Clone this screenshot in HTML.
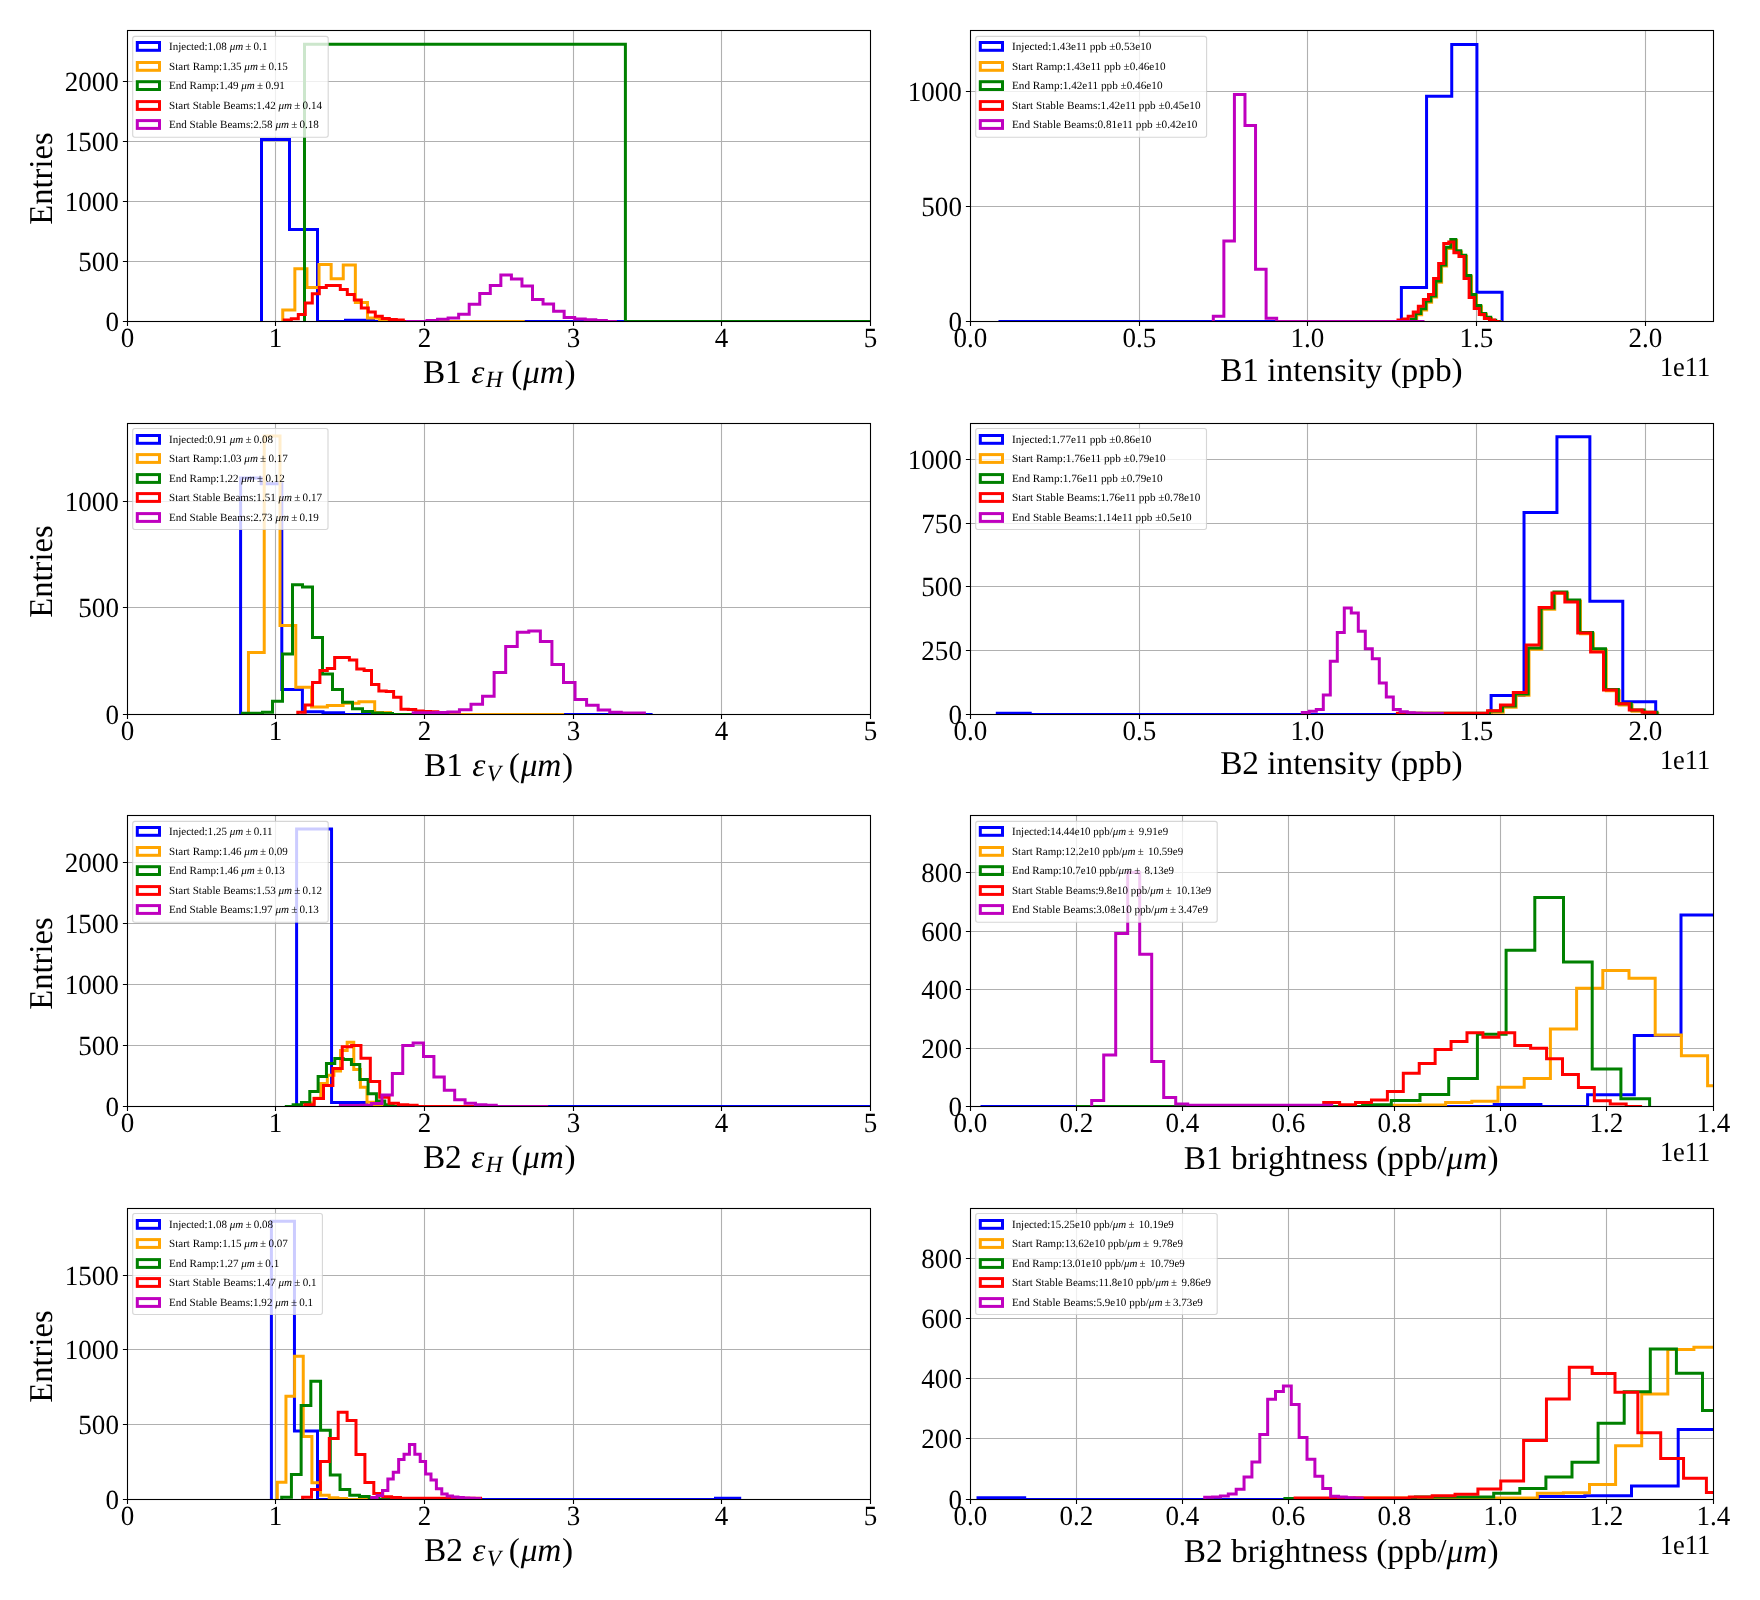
<!DOCTYPE html>
<html><head><meta charset="utf-8"><title>Emittance, intensity and brightness histograms</title>
<style>html,body{margin:0;padding:0;background:#fff}svg{display:block}text{font-family:"Liberation Serif",serif;fill:#000;text-rendering:geometricPrecision}#w{width:1760px;height:1600px;overflow:hidden;will-change:transform;transform:translateZ(0)}.t{font-size:27.78px}.l{font-size:33.33px}.g{font-size:11.11px}.i{font-style:italic}</style></head>
<body><div id="w">
<svg width="1760" height="1600" viewBox="0 0 1760 1600">
<rect x="0" y="0" width="1760" height="1600" fill="#fff"/>
<g id="p0">
<clipPath id="c0"><rect x="127.5" y="30.5" width="743" height="291"/></clipPath>
<path d="M275.5 30.5V321.5M424.5 30.5V321.5M573.5 30.5V321.5M721.5 30.5V321.5M127.5 261.5H870.5M127.5 201.5H870.5M127.5 141.5H870.5M127.5 81.5H870.5" stroke="#b0b0b0" stroke-width="1.1" fill="none"/>
<g clip-path="url(#c0)" fill="none" stroke-width="3.0" stroke-linejoin="miter" stroke-linecap="butt">
<path d="M261.5 321.5V139.4H289.5V229.4H317.5V321.5H345.5V320.3H373.5V321.5H401.5V321.5H429.5V321.5H457.5V321.5H485.5V321.5H513.5V321.5H541.5V321.5H569.5V321.5H597.5V321.5H625.5V321.5H653.5V321.5H681.5V321.5H709.5V321.5H737.5V321.5H765.5V321.5H793.5V321.5H821.5V321.5" stroke="#0000ff"/>
<path d="M282.75 321.5V310H294.85V268.75H306.95V287.5H319.05V264.4H331.15V278.75H343.25V265H355.35V302.5H367.45V318H379.55V321.5H391.65V321.5H403.75V321.5H415.85V321.5H427.95V321.5H440.05V321.5H452.15V321.5H464.25V321.5H476.35V321.5H488.45V321.5H500.55V321.5H512.65V321.5H524.75V321.5" stroke="#ffa500"/>
<path d="M304.5 321.5V44.3H625.4V321.5H946.3V321.5" stroke="#008000"/>
<path d="M284.3 321.5V320H291.3V318.75H298.3V314.4H305.3V303.1H312.3V293.75H319.3V287.5H326.3V285.6H333.3V285.4H340.3V289.4H347.3V294.4H354.3V300H361.3V308.1H368.3V311.9H375.3V316.25H382.3V318.5H389.3V319.5H396.3V320H403.3V321.5H410.3V321.5H417.3V321.5H424.3V321.5" stroke="#ff0000"/>
<path d="M405.9 321.5V321.5H416.45V321.5H427V320.4H437.55V319.2H448.1V318H458.65V314.2H469.2V304.3H479.75V293.5H490.3V285.4H500.85V275.1H511.4V279H521.95V286.1H532.5V299.4H543.05V303.9H553.6V311.3H564.15V317.5H574.7V319.1H585.25V319.8H595.8V320.4H606.35V321.5H616.9V321.5" stroke="#bf00bf"/>
</g>
<rect x="132.7" y="36.35" width="195.5" height="100.9" rx="2.2" ry="2.2" fill="#fff" fill-opacity="0.8" stroke="#ccc" stroke-opacity="0.8" stroke-width="1.1"/>
<rect x="137.3" y="42.5" width="22.2" height="7.8" fill="none" stroke="#0000ff" stroke-width="3.0"/>
<text class="g" x="169" y="50.1" textLength="98.4" lengthAdjust="spacingAndGlyphs" xml:space="preserve">Injected:1.08 <tspan class="i">μm</tspan> ± 0.1</text>
<rect x="137.3" y="62.5" width="22.2" height="7.8" fill="none" stroke="#ffa500" stroke-width="3.0"/>
<text class="g" x="169" y="70.1" textLength="118.8" lengthAdjust="spacingAndGlyphs" xml:space="preserve">Start Ramp:1.35 <tspan class="i">μm</tspan> ± 0.15</text>
<rect x="137.3" y="81.7" width="22.2" height="7.8" fill="none" stroke="#008000" stroke-width="3.0"/>
<text class="g" x="169" y="89.3" textLength="115.8" lengthAdjust="spacingAndGlyphs" xml:space="preserve">End Ramp:1.49 <tspan class="i">μm</tspan> ± 0.91</text>
<rect x="137.3" y="101.6" width="22.2" height="7.8" fill="none" stroke="#ff0000" stroke-width="3.0"/>
<text class="g" x="169" y="109.2" textLength="153" lengthAdjust="spacingAndGlyphs" xml:space="preserve">Start Stable Beams:1.42 <tspan class="i">μm</tspan> ± 0.14</text>
<rect x="137.3" y="120.6" width="22.2" height="7.8" fill="none" stroke="#bf00bf" stroke-width="3.0"/>
<text class="g" x="169" y="128.2" textLength="149.9" lengthAdjust="spacingAndGlyphs" xml:space="preserve">End Stable Beams:2.58 <tspan class="i">μm</tspan> ± 0.18</text>
<rect x="127.5" y="30.5" width="743" height="291" fill="none" stroke="#000" stroke-width="1.1"/>
<path d="M127.5 321.5v4.6M275.5 321.5v4.6M424.5 321.5v4.6M573.5 321.5v4.6M721.5 321.5v4.6M870.5 321.5v4.6M127.5 321.5h-4.6M127.5 261.5h-4.6M127.5 201.5h-4.6M127.5 141.5h-4.6M127.5 81.5h-4.6" stroke="#000" stroke-width="1.1" fill="none"/>
<text class="t" x="127.5" y="347.4" text-anchor="middle" textLength="13.51" lengthAdjust="spacingAndGlyphs">0</text>
<text class="t" x="275.5" y="347.4" text-anchor="middle" textLength="13.51" lengthAdjust="spacingAndGlyphs">1</text>
<text class="t" x="424.5" y="347.4" text-anchor="middle" textLength="13.51" lengthAdjust="spacingAndGlyphs">2</text>
<text class="t" x="573.5" y="347.4" text-anchor="middle" textLength="13.51" lengthAdjust="spacingAndGlyphs">3</text>
<text class="t" x="721.5" y="347.4" text-anchor="middle" textLength="13.51" lengthAdjust="spacingAndGlyphs">4</text>
<text class="t" x="870.5" y="347.4" text-anchor="middle" textLength="13.51" lengthAdjust="spacingAndGlyphs">5</text>
<text class="t" x="118.9" y="330.9" text-anchor="end" textLength="13.51" lengthAdjust="spacingAndGlyphs">0</text>
<text class="t" x="118.9" y="270.9" text-anchor="end" textLength="40.54" lengthAdjust="spacingAndGlyphs">500</text>
<text class="t" x="118.9" y="210.9" text-anchor="end" textLength="54.06" lengthAdjust="spacingAndGlyphs">1000</text>
<text class="t" x="118.9" y="150.9" text-anchor="end" textLength="54.06" lengthAdjust="spacingAndGlyphs">1500</text>
<text class="t" x="118.9" y="90.9" text-anchor="end" textLength="54.06" lengthAdjust="spacingAndGlyphs">2000</text>
<text class="l" x="422.9" y="382.8" xml:space="preserve">B1 <tspan class="i" dx="1">ε</tspan><tspan class="i" dx="1.4" dy="4.6" font-size="23.3">H</tspan><tspan dx="0.4" dy="-4.6"> (</tspan><tspan class="i" dx="0.7">μm</tspan><tspan dx="0.6">)</tspan></text>
<text class="l" transform="translate(51.7 224.7) rotate(-90)" textLength="92.4" lengthAdjust="spacingAndGlyphs">Entries</text>
</g>
<g id="p1">
<clipPath id="c1"><rect x="970.5" y="30.5" width="743" height="291"/></clipPath>
<path d="M1139.5 30.5V321.5M1307.5 30.5V321.5M1476.5 30.5V321.5M1645.5 30.5V321.5M970.5 206.5H1713.5M970.5 91.5H1713.5" stroke="#b0b0b0" stroke-width="1.1" fill="none"/>
<g clip-path="url(#c1)" fill="none" stroke-width="3.0" stroke-linejoin="miter" stroke-linecap="butt">
<path d="M998.5 321.5V321.5H1023.68V321.5H1048.86V321.5H1074.04V321.5H1099.22V321.5H1124.4V321.5H1149.58V321.5H1174.76V321.5H1199.94V321.5H1225.12V321.5H1250.3V321.5H1275.48V321.5H1300.66V321.5H1325.84V321.5H1351.02V321.5H1376.2V321.5H1401.38V287.5H1426.56V96.2H1451.74V44.6H1476.92V292.3H1502.1V321.5" stroke="#0000ff"/>
<path d="M1401.7 321.5V321.5H1406.69V321.5H1411.68V320.4H1416.67V314.8H1421.66V310H1426.65V302.3H1431.64V297.1H1436.63V282.3H1441.62V266.1H1446.61V248.4H1451.6V240.6H1456.59V252H1461.58V256.5H1466.57V276.8H1471.56V295.6H1476.55V306.7H1481.54V314.8H1486.53V318.5H1491.52V321.4H1496.51V321.5H1501.5V321.5" stroke="#ffa500"/>
<path d="M1400.9 321.5V321.5H1405.89V321.5H1410.88V319.2H1415.87V313.6H1420.86V308.8H1425.85V301.1H1430.84V295.9H1435.83V281.1H1440.82V264.9H1445.81V247.2H1450.8V239.4H1455.79V250.8H1460.78V255.3H1465.77V275.6H1470.76V294.4H1475.75V305.5H1480.74V313.6H1485.73V317.3H1490.72V320.2H1495.71V321.5H1500.7V321.5" stroke="#008000"/>
<path d="M1398 321.5V319.9H1403.08V318.9H1408.16V316.2H1413.24V312.1H1418.32V306.2H1423.4V299.6H1428.48V294.4H1433.56V278.5H1438.64V263.4H1443.72V243.5H1448.8V242.1H1453.88V252.7H1458.96V256.4H1464.04V278.5H1469.12V297.4H1474.2V308.5H1479.28V314.4H1484.36V318.4H1489.44V319.9H1494.52V321.5H1499.6V321.5" stroke="#ff0000"/>
<path d="M1213.3 321.5V316.3H1223.86V241H1234.42V94.4H1244.98V125.4H1255.54V269.3H1266.1V318.3H1276.66V321.5H1287.22V321.5H1297.78V321.5H1308.34V321.5H1318.9V321.5H1329.46V321.5H1340.02V321.5H1350.58V321.5H1361.14V321.5H1371.7V321.5H1382.26V321.5H1392.82V321.5H1403.38V321.5H1413.94V321.5H1424.5V321.5" stroke="#bf00bf"/>
</g>
<rect x="975.7" y="36.35" width="230.9" height="100.9" rx="2.2" ry="2.2" fill="#fff" fill-opacity="0.8" stroke="#ccc" stroke-opacity="0.8" stroke-width="1.1"/>
<rect x="980.3" y="42.5" width="22.2" height="7.8" fill="none" stroke="#0000ff" stroke-width="3.0"/>
<text class="g" x="1012" y="50.1" textLength="139.4" lengthAdjust="spacingAndGlyphs" xml:space="preserve">Injected:1.43e11 ppb ±0.53e10</text>
<rect x="980.3" y="62.5" width="22.2" height="7.8" fill="none" stroke="#ffa500" stroke-width="3.0"/>
<text class="g" x="1012" y="70.1" textLength="153.5" lengthAdjust="spacingAndGlyphs" xml:space="preserve">Start Ramp:1.43e11 ppb ±0.46e10</text>
<rect x="980.3" y="81.7" width="22.2" height="7.8" fill="none" stroke="#008000" stroke-width="3.0"/>
<text class="g" x="1012" y="89.3" textLength="150.5" lengthAdjust="spacingAndGlyphs" xml:space="preserve">End Ramp:1.42e11 ppb ±0.46e10</text>
<rect x="980.3" y="101.6" width="22.2" height="7.8" fill="none" stroke="#ff0000" stroke-width="3.0"/>
<text class="g" x="1012" y="109.2" textLength="188.5" lengthAdjust="spacingAndGlyphs" xml:space="preserve">Start Stable Beams:1.42e11 ppb ±0.45e10</text>
<rect x="980.3" y="120.6" width="22.2" height="7.8" fill="none" stroke="#bf00bf" stroke-width="3.0"/>
<text class="g" x="1012" y="128.2" textLength="185.5" lengthAdjust="spacingAndGlyphs" xml:space="preserve">End Stable Beams:0.81e11 ppb ±0.42e10</text>
<rect x="970.5" y="30.5" width="743" height="291" fill="none" stroke="#000" stroke-width="1.1"/>
<path d="M970.5 321.5v4.6M1139.5 321.5v4.6M1307.5 321.5v4.6M1476.5 321.5v4.6M1645.5 321.5v4.6M970.5 321.5h-4.6M970.5 206.5h-4.6M970.5 91.5h-4.6" stroke="#000" stroke-width="1.1" fill="none"/>
<text class="t" x="970.5" y="347.4" text-anchor="middle" textLength="33.79" lengthAdjust="spacingAndGlyphs">0.0</text>
<text class="t" x="1139.5" y="347.4" text-anchor="middle" textLength="33.79" lengthAdjust="spacingAndGlyphs">0.5</text>
<text class="t" x="1307.5" y="347.4" text-anchor="middle" textLength="33.79" lengthAdjust="spacingAndGlyphs">1.0</text>
<text class="t" x="1476.5" y="347.4" text-anchor="middle" textLength="33.79" lengthAdjust="spacingAndGlyphs">1.5</text>
<text class="t" x="1645.5" y="347.4" text-anchor="middle" textLength="33.79" lengthAdjust="spacingAndGlyphs">2.0</text>
<text class="t" x="961.9" y="330.9" text-anchor="end" textLength="13.51" lengthAdjust="spacingAndGlyphs">0</text>
<text class="t" x="961.9" y="215.9" text-anchor="end" textLength="40.54" lengthAdjust="spacingAndGlyphs">500</text>
<text class="t" x="961.9" y="100.9" text-anchor="end" textLength="54.06" lengthAdjust="spacingAndGlyphs">1000</text>
<text class="l" x="1341.4" y="380.9" text-anchor="middle" xml:space="preserve">B1 intensity (ppb)</text>
<text class="t" x="1659.9" y="376.3" textLength="50.4" lengthAdjust="spacingAndGlyphs">1e11</text>
</g>
<g id="p2">
<clipPath id="c2"><rect x="127.5" y="423.5" width="743" height="291"/></clipPath>
<path d="M275.5 423.5V714.5M424.5 423.5V714.5M573.5 423.5V714.5M721.5 423.5V714.5M127.5 607.5H870.5M127.5 501.5H870.5" stroke="#b0b0b0" stroke-width="1.1" fill="none"/>
<g clip-path="url(#c2)" fill="none" stroke-width="3.0" stroke-linejoin="miter" stroke-linecap="butt">
<path d="M240.6 714.5V478.1H261.2V483.8H281.8V689.5H302.4V711.8H323V712.8H343.6V714.5H364.2V714.5H384.8V714.5H405.4V714.5H426V714.5H446.6V714.5H467.2V714.5H487.8V714.5H508.4V714.5H529V714.5H549.6V714.5H570.2V714.5H590.8V714.5H611.4V714.5H632V714.5H652.6V714.5" stroke="#0000ff"/>
<path d="M248.45 714.5V652.6H264.23V435.9H280.01V625.4H295.79V687.3H311.57V707H327.35V705.5H343.13V703.2H358.91V701.7H374.69V712.6H390.47V714.5H406.25V714.5H422.03V714.5H437.81V714.5H453.59V714.5H469.37V714.5H485.15V714.5H500.93V714.5H516.71V714.5H532.49V714.5H548.27V714.5H564.05V714.5" stroke="#ffa500"/>
<path d="M242.5 714.5V713.3H252.5V713.3H262.5V712.2H272.5V701.3H282.5V654.1H292.5V584.7H302.5V586.9H312.5V637.6H322.5V674.1H332.5V689.5H342.5V702.3H352.5V708.8H362.5V711.6H372.5V713H382.5V713.4H392.5V714.5H402.5V714.5H412.5V714.5H422.5V714.5H432.5V714.5H442.5V714.5" stroke="#008000"/>
<path d="M297.8 714.5V712.2H305.17V705.1H312.54V682.6H319.91V670.4H327.28V668.5H334.65V657.6H342.02V657.6H349.39V660.1H356.76V669.1H364.13V670.4H371.5V684.4H378.87V691H386.24V691.6H393.61V697.2H400.98V709.2H408.35V709.4H415.72V711H423.09V711.4H430.46V711.8H437.83V712.6H445.2V714.5" stroke="#ff0000"/>
<path d="M413.2 714.5V712.8H424.76V712.8H436.32V712.6H447.88V712H459.44V709.8H471V704.2H482.56V696.2H494.12V672.4H505.68V646.5H517.24V632.3H528.8V631H540.36V641.4H551.92V664.4H563.48V682.4H575.04V699.4H586.6V705.3H598.16V710.1H609.72V712.2H621.28V712.9H632.84V713H644.4V714.5" stroke="#bf00bf"/>
</g>
<rect x="132.7" y="428.55" width="195.3" height="100.9" rx="2.2" ry="2.2" fill="#fff" fill-opacity="0.8" stroke="#ccc" stroke-opacity="0.8" stroke-width="1.1"/>
<rect x="137.3" y="435.5" width="22.2" height="7.8" fill="none" stroke="#0000ff" stroke-width="3.0"/>
<text class="g" x="169" y="443.1" textLength="104" lengthAdjust="spacingAndGlyphs" xml:space="preserve">Injected:0.91 <tspan class="i">μm</tspan> ± 0.08</text>
<rect x="137.3" y="454.6" width="22.2" height="7.8" fill="none" stroke="#ffa500" stroke-width="3.0"/>
<text class="g" x="169" y="462.2" textLength="118.8" lengthAdjust="spacingAndGlyphs" xml:space="preserve">Start Ramp:1.03 <tspan class="i">μm</tspan> ± 0.17</text>
<rect x="137.3" y="474.6" width="22.2" height="7.8" fill="none" stroke="#008000" stroke-width="3.0"/>
<text class="g" x="169" y="482.2" textLength="115.8" lengthAdjust="spacingAndGlyphs" xml:space="preserve">End Ramp:1.22 <tspan class="i">μm</tspan> ± 0.12</text>
<rect x="137.3" y="493.6" width="22.2" height="7.8" fill="none" stroke="#ff0000" stroke-width="3.0"/>
<text class="g" x="169" y="501.2" textLength="153" lengthAdjust="spacingAndGlyphs" xml:space="preserve">Start Stable Beams:1.51 <tspan class="i">μm</tspan> ± 0.17</text>
<rect x="137.3" y="513.6" width="22.2" height="7.8" fill="none" stroke="#bf00bf" stroke-width="3.0"/>
<text class="g" x="169" y="521.2" textLength="149.9" lengthAdjust="spacingAndGlyphs" xml:space="preserve">End Stable Beams:2.73 <tspan class="i">μm</tspan> ± 0.19</text>
<rect x="127.5" y="423.5" width="743" height="291" fill="none" stroke="#000" stroke-width="1.1"/>
<path d="M127.5 714.5v4.6M275.5 714.5v4.6M424.5 714.5v4.6M573.5 714.5v4.6M721.5 714.5v4.6M870.5 714.5v4.6M127.5 714.5h-4.6M127.5 607.5h-4.6M127.5 501.5h-4.6" stroke="#000" stroke-width="1.1" fill="none"/>
<text class="t" x="127.5" y="740.4" text-anchor="middle" textLength="13.51" lengthAdjust="spacingAndGlyphs">0</text>
<text class="t" x="275.5" y="740.4" text-anchor="middle" textLength="13.51" lengthAdjust="spacingAndGlyphs">1</text>
<text class="t" x="424.5" y="740.4" text-anchor="middle" textLength="13.51" lengthAdjust="spacingAndGlyphs">2</text>
<text class="t" x="573.5" y="740.4" text-anchor="middle" textLength="13.51" lengthAdjust="spacingAndGlyphs">3</text>
<text class="t" x="721.5" y="740.4" text-anchor="middle" textLength="13.51" lengthAdjust="spacingAndGlyphs">4</text>
<text class="t" x="870.5" y="740.4" text-anchor="middle" textLength="13.51" lengthAdjust="spacingAndGlyphs">5</text>
<text class="t" x="118.9" y="723.9" text-anchor="end" textLength="13.51" lengthAdjust="spacingAndGlyphs">0</text>
<text class="t" x="118.9" y="616.9" text-anchor="end" textLength="40.54" lengthAdjust="spacingAndGlyphs">500</text>
<text class="t" x="118.9" y="510.9" text-anchor="end" textLength="54.06" lengthAdjust="spacingAndGlyphs">1000</text>
<text class="l" x="424" y="776.1" xml:space="preserve">B1 <tspan class="i" dx="1">ε</tspan><tspan class="i" dx="1.4" dy="4.6" font-size="23.3">V</tspan><tspan dx="-0.5" dy="-4.6"> (</tspan><tspan class="i" dx="0.7">μm</tspan><tspan dx="0.6">)</tspan></text>
<text class="l" transform="translate(51.7 617.7) rotate(-90)" textLength="92.4" lengthAdjust="spacingAndGlyphs">Entries</text>
</g>
<g id="p3">
<clipPath id="c3"><rect x="970.5" y="423.5" width="743" height="291"/></clipPath>
<path d="M1139.5 423.5V714.5M1307.5 423.5V714.5M1476.5 423.5V714.5M1645.5 423.5V714.5M970.5 650.5H1713.5M970.5 586.5H1713.5M970.5 523.5H1713.5M970.5 459.5H1713.5" stroke="#b0b0b0" stroke-width="1.1" fill="none"/>
<g clip-path="url(#c3)" fill="none" stroke-width="3.0" stroke-linejoin="miter" stroke-linecap="butt">
<path d="M997.3 714.5V713.3H1030.22V714.5H1063.14V714.5H1096.06V714.5H1128.98V714.5H1161.9V714.5H1194.82V714.5H1227.74V714.5H1260.66V714.5H1293.58V714.5H1326.5V714.5H1359.42V714.5H1392.34V714.5H1425.26V714.5H1458.18V714.5H1491.1V695.5H1524.02V512.5H1556.94V436.75H1589.86V601.25H1622.78V701.75H1655.7V714.5" stroke="#0000ff"/>
<path d="M1400.2 714.5V714.5H1413.08V714.5H1425.96V714.5H1438.84V714.5H1451.72V714.5H1464.6V714.5H1477.48V714.5H1490.36V712.2H1503.24V707.2H1516.12V695.2H1529V649.2H1541.88V609.2H1554.76V593.2H1567.64V601.2H1580.52V633.7H1593.4V649.95H1606.28V690.7H1619.16V704.95H1632.04V711.2H1644.92V713.5H1657.8V714.5" stroke="#ffa500"/>
<path d="M1399.4 714.5V713.3H1412.28V713.3H1425.16V713.3H1438.04V713.3H1450.92V713.3H1463.8V713.3H1476.68V713.3H1489.56V711H1502.44V706H1515.32V694H1528.2V648H1541.08V608H1553.96V592H1566.84V600H1579.72V632.5H1592.6V648.75H1605.48V689.5H1618.36V703.75H1631.24V710H1644.12V712.3H1657V714.5" stroke="#008000"/>
<path d="M1397.4 714.5V713.3H1410.28V713.3H1423.16V713.3H1436.04V713.3H1448.92V713.3H1461.8V713.3H1474.68V713.3H1487.56V710.75H1500.44V705H1513.32V692.5H1526.2V645H1539.08V607.5H1551.96V593H1564.84V602H1577.72V633H1590.6V652H1603.48V690H1616.36V703.75H1629.24V710H1642.12V712.3H1655V714.5" stroke="#ff0000"/>
<path d="M1302.3 714.5V712.6H1309.3V711.25H1316.3V709.5H1323.3V695H1330.3V661.25H1337.3V632.5H1344.3V608H1351.3V613H1358.3V631.25H1365.3V648.75H1372.3V658.75H1379.3V683H1386.3V697H1393.3V709.5H1400.3V711.75H1407.3V712.8H1414.3V713.2H1421.3V713.4H1428.3V713.4H1435.3V713.4H1442.3V714.5" stroke="#bf00bf"/>
</g>
<rect x="975.7" y="428.55" width="230.8" height="100.9" rx="2.2" ry="2.2" fill="#fff" fill-opacity="0.8" stroke="#ccc" stroke-opacity="0.8" stroke-width="1.1"/>
<rect x="980.3" y="435.5" width="22.2" height="7.8" fill="none" stroke="#0000ff" stroke-width="3.0"/>
<text class="g" x="1012" y="443.1" textLength="139.4" lengthAdjust="spacingAndGlyphs" xml:space="preserve">Injected:1.77e11 ppb ±0.86e10</text>
<rect x="980.3" y="454.6" width="22.2" height="7.8" fill="none" stroke="#ffa500" stroke-width="3.0"/>
<text class="g" x="1012" y="462.2" textLength="153.5" lengthAdjust="spacingAndGlyphs" xml:space="preserve">Start Ramp:1.76e11 ppb ±0.79e10</text>
<rect x="980.3" y="474.6" width="22.2" height="7.8" fill="none" stroke="#008000" stroke-width="3.0"/>
<text class="g" x="1012" y="482.2" textLength="150.5" lengthAdjust="spacingAndGlyphs" xml:space="preserve">End Ramp:1.76e11 ppb ±0.79e10</text>
<rect x="980.3" y="493.6" width="22.2" height="7.8" fill="none" stroke="#ff0000" stroke-width="3.0"/>
<text class="g" x="1012" y="501.2" textLength="188.3" lengthAdjust="spacingAndGlyphs" xml:space="preserve">Start Stable Beams:1.76e11 ppb ±0.78e10</text>
<rect x="980.3" y="513.6" width="22.2" height="7.8" fill="none" stroke="#bf00bf" stroke-width="3.0"/>
<text class="g" x="1012" y="521.2" textLength="179.6" lengthAdjust="spacingAndGlyphs" xml:space="preserve">End Stable Beams:1.14e11 ppb ±0.5e10</text>
<rect x="970.5" y="423.5" width="743" height="291" fill="none" stroke="#000" stroke-width="1.1"/>
<path d="M970.5 714.5v4.6M1139.5 714.5v4.6M1307.5 714.5v4.6M1476.5 714.5v4.6M1645.5 714.5v4.6M970.5 714.5h-4.6M970.5 650.5h-4.6M970.5 586.5h-4.6M970.5 523.5h-4.6M970.5 459.5h-4.6" stroke="#000" stroke-width="1.1" fill="none"/>
<text class="t" x="970.5" y="740.4" text-anchor="middle" textLength="33.79" lengthAdjust="spacingAndGlyphs">0.0</text>
<text class="t" x="1139.5" y="740.4" text-anchor="middle" textLength="33.79" lengthAdjust="spacingAndGlyphs">0.5</text>
<text class="t" x="1307.5" y="740.4" text-anchor="middle" textLength="33.79" lengthAdjust="spacingAndGlyphs">1.0</text>
<text class="t" x="1476.5" y="740.4" text-anchor="middle" textLength="33.79" lengthAdjust="spacingAndGlyphs">1.5</text>
<text class="t" x="1645.5" y="740.4" text-anchor="middle" textLength="33.79" lengthAdjust="spacingAndGlyphs">2.0</text>
<text class="t" x="961.9" y="723.9" text-anchor="end" textLength="13.51" lengthAdjust="spacingAndGlyphs">0</text>
<text class="t" x="961.9" y="659.9" text-anchor="end" textLength="40.54" lengthAdjust="spacingAndGlyphs">250</text>
<text class="t" x="961.9" y="595.9" text-anchor="end" textLength="40.54" lengthAdjust="spacingAndGlyphs">500</text>
<text class="t" x="961.9" y="532.9" text-anchor="end" textLength="40.54" lengthAdjust="spacingAndGlyphs">750</text>
<text class="t" x="961.9" y="468.9" text-anchor="end" textLength="54.06" lengthAdjust="spacingAndGlyphs">1000</text>
<text class="l" x="1341.4" y="773.9" text-anchor="middle" xml:space="preserve">B2 intensity (ppb)</text>
<text class="t" x="1659.9" y="769.3" textLength="50.4" lengthAdjust="spacingAndGlyphs">1e11</text>
</g>
<g id="p4">
<clipPath id="c4"><rect x="127.5" y="815.5" width="743" height="291"/></clipPath>
<path d="M275.5 815.5V1106.5M424.5 815.5V1106.5M573.5 815.5V1106.5M721.5 815.5V1106.5M127.5 1045.5H870.5M127.5 984.5H870.5M127.5 923.5H870.5M127.5 862.5H870.5" stroke="#b0b0b0" stroke-width="1.1" fill="none"/>
<g clip-path="url(#c4)" fill="none" stroke-width="3.0" stroke-linejoin="miter" stroke-linecap="butt">
<path d="M296.6 1106.5V829.1H331.55V1102.4H366.5V1106.5H401.45V1106.5H436.4V1106.5H471.35V1106.5H506.3V1106.5H541.25V1106.5H576.2V1106.5H611.15V1106.5H646.1V1106.5H681.05V1106.5H716V1106.5H750.95V1106.5H785.9V1106.5H820.85V1106.5H855.8V1106.5H890.75V1106.5H925.7V1106.5H960.65V1106.5H995.6V1106.5" stroke="#0000ff"/>
<path d="M300.9 1106.5V1106.5H307.51V1103H314.12V1098.2H320.73V1083.5H327.34V1075.3H333.95V1070.9H340.56V1050.5H347.17V1042.3H353.78V1069.4H360.39V1087.3H367V1102.3H373.61V1105H380.22V1106.5H386.83V1106.5H393.44V1106.5H400.05V1106.5H406.66V1106.5H413.27V1106.5H419.88V1106.5H426.49V1106.5H433.1V1106.5" stroke="#ffa500"/>
<path d="M284.8 1106.5V1106.5H293.13V1104.7H301.46V1102.4H309.79V1091.4H318.12V1076.4H326.45V1063.4H334.78V1058.5H343.11V1059.5H351.44V1064.4H359.77V1079.4H368.1V1093.7H376.43V1100.9H384.76V1104.7H393.09V1106.5H401.42V1106.5H409.75V1106.5H418.08V1106.5H426.41V1106.5H434.74V1106.5H443.07V1106.5H451.4V1106.5" stroke="#008000"/>
<path d="M304.8 1106.5V1104.7H314.16V1098.5H323.52V1085.6H332.88V1068.5H342.24V1046.7H351.6V1045.5H360.96V1058.3H370.32V1081.5H379.68V1097.2H389.04V1103.3H398.4V1104.7H407.76V1105.3H417.12V1106.5H426.48V1106.5H435.84V1106.5H445.2V1106.5H454.56V1106.5H463.92V1106.5H473.28V1106.5H482.64V1106.5H492V1106.5" stroke="#ff0000"/>
<path d="M340.4 1106.5V1105.4H350.79V1105.4H361.18V1105.2H371.57V1103.6H381.96V1095H392.35V1073.6H402.74V1045.4H413.13V1042.9H423.52V1056.5H433.91V1076.9H444.3V1090.2H454.69V1099.7H465.08V1103.2H475.47V1104.7H485.86V1105.3H496.25V1106.5H506.64V1106.5H517.03V1106.5H527.42V1106.5H537.81V1106.5H548.2V1106.5" stroke="#bf00bf"/>
</g>
<rect x="132.7" y="821.35" width="195.5" height="100.9" rx="2.2" ry="2.2" fill="#fff" fill-opacity="0.8" stroke="#ccc" stroke-opacity="0.8" stroke-width="1.1"/>
<rect x="137.3" y="827.5" width="22.2" height="7.8" fill="none" stroke="#0000ff" stroke-width="3.0"/>
<text class="g" x="169" y="835.1" textLength="103.6" lengthAdjust="spacingAndGlyphs" xml:space="preserve">Injected:1.25 <tspan class="i">μm</tspan> ± 0.11</text>
<rect x="137.3" y="847.5" width="22.2" height="7.8" fill="none" stroke="#ffa500" stroke-width="3.0"/>
<text class="g" x="169" y="855.1" textLength="118.8" lengthAdjust="spacingAndGlyphs" xml:space="preserve">Start Ramp:1.46 <tspan class="i">μm</tspan> ± 0.09</text>
<rect x="137.3" y="866.7" width="22.2" height="7.8" fill="none" stroke="#008000" stroke-width="3.0"/>
<text class="g" x="169" y="874.3" textLength="115.8" lengthAdjust="spacingAndGlyphs" xml:space="preserve">End Ramp:1.46 <tspan class="i">μm</tspan> ± 0.13</text>
<rect x="137.3" y="886.6" width="22.2" height="7.8" fill="none" stroke="#ff0000" stroke-width="3.0"/>
<text class="g" x="169" y="894.2" textLength="153" lengthAdjust="spacingAndGlyphs" xml:space="preserve">Start Stable Beams:1.53 <tspan class="i">μm</tspan> ± 0.12</text>
<rect x="137.3" y="905.6" width="22.2" height="7.8" fill="none" stroke="#bf00bf" stroke-width="3.0"/>
<text class="g" x="169" y="913.2" textLength="149.9" lengthAdjust="spacingAndGlyphs" xml:space="preserve">End Stable Beams:1.97 <tspan class="i">μm</tspan> ± 0.13</text>
<rect x="127.5" y="815.5" width="743" height="291" fill="none" stroke="#000" stroke-width="1.1"/>
<path d="M127.5 1106.5v4.6M275.5 1106.5v4.6M424.5 1106.5v4.6M573.5 1106.5v4.6M721.5 1106.5v4.6M870.5 1106.5v4.6M127.5 1106.5h-4.6M127.5 1045.5h-4.6M127.5 984.5h-4.6M127.5 923.5h-4.6M127.5 862.5h-4.6" stroke="#000" stroke-width="1.1" fill="none"/>
<text class="t" x="127.5" y="1132.4" text-anchor="middle" textLength="13.51" lengthAdjust="spacingAndGlyphs">0</text>
<text class="t" x="275.5" y="1132.4" text-anchor="middle" textLength="13.51" lengthAdjust="spacingAndGlyphs">1</text>
<text class="t" x="424.5" y="1132.4" text-anchor="middle" textLength="13.51" lengthAdjust="spacingAndGlyphs">2</text>
<text class="t" x="573.5" y="1132.4" text-anchor="middle" textLength="13.51" lengthAdjust="spacingAndGlyphs">3</text>
<text class="t" x="721.5" y="1132.4" text-anchor="middle" textLength="13.51" lengthAdjust="spacingAndGlyphs">4</text>
<text class="t" x="870.5" y="1132.4" text-anchor="middle" textLength="13.51" lengthAdjust="spacingAndGlyphs">5</text>
<text class="t" x="118.9" y="1115.9" text-anchor="end" textLength="13.51" lengthAdjust="spacingAndGlyphs">0</text>
<text class="t" x="118.9" y="1054.9" text-anchor="end" textLength="40.54" lengthAdjust="spacingAndGlyphs">500</text>
<text class="t" x="118.9" y="993.9" text-anchor="end" textLength="54.06" lengthAdjust="spacingAndGlyphs">1000</text>
<text class="t" x="118.9" y="932.9" text-anchor="end" textLength="54.06" lengthAdjust="spacingAndGlyphs">1500</text>
<text class="t" x="118.9" y="871.9" text-anchor="end" textLength="54.06" lengthAdjust="spacingAndGlyphs">2000</text>
<text class="l" x="422.9" y="1167.8" xml:space="preserve">B2 <tspan class="i" dx="1">ε</tspan><tspan class="i" dx="1.4" dy="4.6" font-size="23.3">H</tspan><tspan dx="0.4" dy="-4.6"> (</tspan><tspan class="i" dx="0.7">μm</tspan><tspan dx="0.6">)</tspan></text>
<text class="l" transform="translate(51.7 1009.7) rotate(-90)" textLength="92.4" lengthAdjust="spacingAndGlyphs">Entries</text>
</g>
<g id="p5">
<clipPath id="c5"><rect x="970.5" y="815.5" width="743" height="291"/></clipPath>
<path d="M1076.5 815.5V1106.5M1182.5 815.5V1106.5M1288.5 815.5V1106.5M1394.5 815.5V1106.5M1500.5 815.5V1106.5M1606.5 815.5V1106.5M970.5 1048.5H1713.5M970.5 989.5H1713.5M970.5 931.5H1713.5M970.5 872.5H1713.5" stroke="#b0b0b0" stroke-width="1.1" fill="none"/>
<g clip-path="url(#c5)" fill="none" stroke-width="3.0" stroke-linejoin="miter" stroke-linecap="butt">
<path d="M980.5 1106.5V1106.5H1027.2V1106.5H1073.9V1106.5H1120.6V1106.5H1167.3V1106.5H1214V1106.5H1260.7V1106.5H1307.4V1106.5H1354.1V1106.5H1400.8V1106.5H1447.5V1106.5H1494.2V1104.4H1540.9V1106.5H1587.6V1094.7H1634.3V1035.5H1681V915H1727.7V915H1774.4V915H1821.1V915H1867.8V915H1914.5V1106.5" stroke="#0000ff"/>
<path d="M1393.2 1106.5V1105.3H1419.4V1105H1445.6V1102.4H1471.8V1101.2H1498V1087.3H1524.2V1078.5H1550.4V1029.1H1576.6V988.3H1602.8V970.4H1629V978.3H1655.2V1035.1H1681.4V1055.8H1707.6V1085.7H1733.8V1095H1760V1100H1786.2V1103H1812.4V1105H1838.6V1105H1864.8V1105H1891V1105H1917.2V1106.5" stroke="#ffa500"/>
<path d="M1075.6 1106.5V1106.5H1104.3V1106.5H1133V1106.5H1161.7V1106.5H1190.4V1106.5H1219.1V1106.5H1247.8V1106.5H1276.5V1106.5H1305.2V1106.5H1333.9V1106.5H1362.6V1104.7H1391.3V1100.5H1420V1094.5H1448.7V1078.5H1477.4V1034.3H1506.1V950.3H1534.8V897.6H1563.5V962H1592.2V1069H1620.9V1098.8H1649.6V1106.5" stroke="#008000"/>
<path d="M1323.7 1106.5V1102.4H1339.62V1104.7H1355.54V1102.4H1371.46V1100H1387.38V1091.6H1403.3V1073.2H1419.22V1063.5H1435.14V1049.4H1451.06V1041.5H1466.98V1032.7H1482.9V1037.2H1498.82V1032.7H1514.74V1045.6H1530.66V1048.2H1546.58V1058.7H1562.5V1074.4H1578.42V1087.6H1594.34V1100.7H1610.26V1104H1626.18V1106.5H1642.1V1106.5" stroke="#ff0000"/>
<path d="M1091.7 1106.5V1100.4H1103.7V1055H1115.7V933.5H1127.7V872.4H1139.7V954.2H1151.7V1061.5H1163.7V1097.6H1175.7V1104H1187.7V1105.3H1199.7V1105.3H1211.7V1105.3H1223.7V1105.3H1235.7V1105.3H1247.7V1105.3H1259.7V1105.3H1271.7V1105.3H1283.7V1105.3H1295.7V1105.3H1307.7V1105.3H1319.7V1105.3H1331.7V1106.5" stroke="#bf00bf"/>
</g>
<rect x="975.7" y="821.35" width="241.5" height="100.9" rx="2.2" ry="2.2" fill="#fff" fill-opacity="0.8" stroke="#ccc" stroke-opacity="0.8" stroke-width="1.1"/>
<rect x="980.3" y="827.5" width="22.2" height="7.8" fill="none" stroke="#0000ff" stroke-width="3.0"/>
<text class="g" x="1012" y="835.1" textLength="156.1" lengthAdjust="spacingAndGlyphs" xml:space="preserve">Injected:14.44e10 ppb/<tspan class="i">μm</tspan> ±  9.91e9</text>
<rect x="980.3" y="847.5" width="22.2" height="7.8" fill="none" stroke="#ffa500" stroke-width="3.0"/>
<text class="g" x="1012" y="855.1" textLength="171.2" lengthAdjust="spacingAndGlyphs" xml:space="preserve">Start Ramp:12.2e10 ppb/<tspan class="i">μm</tspan> ±  10.59e9</text>
<rect x="980.3" y="866.7" width="22.2" height="7.8" fill="none" stroke="#008000" stroke-width="3.0"/>
<text class="g" x="1012" y="874.3" textLength="162" lengthAdjust="spacingAndGlyphs" xml:space="preserve">End Ramp:10.7e10 ppb/<tspan class="i">μm</tspan> ±  8.13e9</text>
<rect x="980.3" y="886.6" width="22.2" height="7.8" fill="none" stroke="#ff0000" stroke-width="3.0"/>
<text class="g" x="1012" y="894.2" textLength="199.3" lengthAdjust="spacingAndGlyphs" xml:space="preserve">Start Stable Beams:9.8e10 ppb/<tspan class="i">μm</tspan> ±  10.13e9</text>
<rect x="980.3" y="905.6" width="22.2" height="7.8" fill="none" stroke="#bf00bf" stroke-width="3.0"/>
<text class="g" x="1012" y="913.2" textLength="196.1" lengthAdjust="spacingAndGlyphs" xml:space="preserve">End Stable Beams:3.08e10 ppb/<tspan class="i">μm</tspan> ± 3.47e9</text>
<rect x="970.5" y="815.5" width="743" height="291" fill="none" stroke="#000" stroke-width="1.1"/>
<path d="M970.5 1106.5v4.6M1076.5 1106.5v4.6M1182.5 1106.5v4.6M1288.5 1106.5v4.6M1394.5 1106.5v4.6M1500.5 1106.5v4.6M1606.5 1106.5v4.6M1713.5 1106.5v4.6M970.5 1106.5h-4.6M970.5 1048.5h-4.6M970.5 989.5h-4.6M970.5 931.5h-4.6M970.5 872.5h-4.6" stroke="#000" stroke-width="1.1" fill="none"/>
<text class="t" x="970.5" y="1132.4" text-anchor="middle" textLength="33.79" lengthAdjust="spacingAndGlyphs">0.0</text>
<text class="t" x="1076.5" y="1132.4" text-anchor="middle" textLength="33.79" lengthAdjust="spacingAndGlyphs">0.2</text>
<text class="t" x="1182.5" y="1132.4" text-anchor="middle" textLength="33.79" lengthAdjust="spacingAndGlyphs">0.4</text>
<text class="t" x="1288.5" y="1132.4" text-anchor="middle" textLength="33.79" lengthAdjust="spacingAndGlyphs">0.6</text>
<text class="t" x="1394.5" y="1132.4" text-anchor="middle" textLength="33.79" lengthAdjust="spacingAndGlyphs">0.8</text>
<text class="t" x="1500.5" y="1132.4" text-anchor="middle" textLength="33.79" lengthAdjust="spacingAndGlyphs">1.0</text>
<text class="t" x="1606.5" y="1132.4" text-anchor="middle" textLength="33.79" lengthAdjust="spacingAndGlyphs">1.2</text>
<text class="t" x="1713.5" y="1132.4" text-anchor="middle" textLength="33.79" lengthAdjust="spacingAndGlyphs">1.4</text>
<text class="t" x="961.9" y="1115.9" text-anchor="end" textLength="13.51" lengthAdjust="spacingAndGlyphs">0</text>
<text class="t" x="961.9" y="1057.9" text-anchor="end" textLength="40.54" lengthAdjust="spacingAndGlyphs">200</text>
<text class="t" x="961.9" y="998.9" text-anchor="end" textLength="40.54" lengthAdjust="spacingAndGlyphs">400</text>
<text class="t" x="961.9" y="940.9" text-anchor="end" textLength="40.54" lengthAdjust="spacingAndGlyphs">600</text>
<text class="t" x="961.9" y="881.9" text-anchor="end" textLength="40.54" lengthAdjust="spacingAndGlyphs">800</text>
<text class="l" x="1341.1" y="1169" text-anchor="middle" xml:space="preserve">B1 brightness (ppb/<tspan class="i">μm</tspan>)</text>
<text class="t" x="1659.9" y="1161.3" textLength="50.4" lengthAdjust="spacingAndGlyphs">1e11</text>
</g>
<g id="p6">
<clipPath id="c6"><rect x="127.5" y="1208.5" width="743" height="291"/></clipPath>
<path d="M275.5 1208.5V1499.5M424.5 1208.5V1499.5M573.5 1208.5V1499.5M721.5 1208.5V1499.5M127.5 1424.5H870.5M127.5 1349.5H870.5M127.5 1275.5H870.5" stroke="#b0b0b0" stroke-width="1.1" fill="none"/>
<g clip-path="url(#c6)" fill="none" stroke-width="3.0" stroke-linejoin="miter" stroke-linecap="butt">
<path d="M271.4 1499.5V1221.3H294.45V1431.1H317.5V1499.5H340.55V1499.5H363.6V1499.5H386.65V1499.5H409.7V1499.5H432.75V1499.5H455.8V1499.5H478.85V1499.5H501.9V1499.5H524.95V1499.5H548V1499.5H571.05V1499.5H594.1V1499.5H617.15V1499.5H640.2V1499.5H663.25V1499.5H686.3V1499.5H709.35V1499.5H715.5V1498.2H739.7V1499.5" stroke="#0000ff"/>
<path d="M277.3 1499.5V1482.3H285.95V1396.2H294.6V1356.3H303.25V1436.4H311.9V1482.8H320.55V1495.2H329.2V1497.7H337.85V1498.4H346.5V1499.5H355.15V1499.5H363.8V1499.5H372.45V1499.5H381.1V1499.5H389.75V1499.5H398.4V1499.5H407.05V1499.5H415.7V1499.5H424.35V1499.5H433V1499.5H441.65V1499.5H450.3V1499.5" stroke="#ffa500"/>
<path d="M281.7 1499.5V1497.2H291.42V1474.5H301.14V1405.5H310.86V1381.2H320.58V1430.2H330.3V1475.1H340.02V1489.5H349.74V1495.2H359.46V1496.5H369.18V1498H378.9V1499.5H388.62V1499.5H398.34V1499.5H408.06V1499.5H417.78V1499.5H427.5V1499.5H437.22V1499.5H446.94V1499.5H456.66V1499.5H466.38V1499.5H476.1V1499.5" stroke="#008000"/>
<path d="M302.6 1499.5V1497.3H311.5V1489.5H320.4V1461.4H329.3V1438.5H338.2V1412.2H347.1V1420.4H356V1454.4H364.9V1482.6H373.8V1493.6H382.7V1496.7H391.6V1497.6H400.5V1498.2H409.4V1498.2H418.3V1498.2H427.2V1498.2H436.1V1498.2H445V1498.2H453.9V1498.2H462.8V1498.2H471.7V1498.2H480.6V1499.5" stroke="#ff0000"/>
<path d="M371.7 1499.5V1497.4H377.09V1495.5H382.48V1490.6H387.87V1479H393.26V1472.2H398.65V1459.6H404.04V1454.2H409.43V1444.5H414.82V1454.2H420.21V1461.6H425.6V1474.1H430.99V1480H436.38V1488.7H441.77V1494.1H447.16V1496H452.55V1497H457.94V1497.6H463.33V1498H468.72V1498.2H474.11V1498.4H479.5V1499.5" stroke="#bf00bf"/>
</g>
<rect x="132.7" y="1213.55" width="189.7" height="100.9" rx="2.2" ry="2.2" fill="#fff" fill-opacity="0.8" stroke="#ccc" stroke-opacity="0.8" stroke-width="1.1"/>
<rect x="137.3" y="1220.5" width="22.2" height="7.8" fill="none" stroke="#0000ff" stroke-width="3.0"/>
<text class="g" x="169" y="1228.1" textLength="104" lengthAdjust="spacingAndGlyphs" xml:space="preserve">Injected:1.08 <tspan class="i">μm</tspan> ± 0.08</text>
<rect x="137.3" y="1239.6" width="22.2" height="7.8" fill="none" stroke="#ffa500" stroke-width="3.0"/>
<text class="g" x="169" y="1247.2" textLength="118.8" lengthAdjust="spacingAndGlyphs" xml:space="preserve">Start Ramp:1.15 <tspan class="i">μm</tspan> ± 0.07</text>
<rect x="137.3" y="1259.6" width="22.2" height="7.8" fill="none" stroke="#008000" stroke-width="3.0"/>
<text class="g" x="169" y="1267.2" textLength="110.2" lengthAdjust="spacingAndGlyphs" xml:space="preserve">End Ramp:1.27 <tspan class="i">μm</tspan> ± 0.1</text>
<rect x="137.3" y="1278.6" width="22.2" height="7.8" fill="none" stroke="#ff0000" stroke-width="3.0"/>
<text class="g" x="169" y="1286.2" textLength="147.5" lengthAdjust="spacingAndGlyphs" xml:space="preserve">Start Stable Beams:1.47 <tspan class="i">μm</tspan> ± 0.1</text>
<rect x="137.3" y="1298.6" width="22.2" height="7.8" fill="none" stroke="#bf00bf" stroke-width="3.0"/>
<text class="g" x="169" y="1306.2" textLength="144" lengthAdjust="spacingAndGlyphs" xml:space="preserve">End Stable Beams:1.92 <tspan class="i">μm</tspan> ± 0.1</text>
<rect x="127.5" y="1208.5" width="743" height="291" fill="none" stroke="#000" stroke-width="1.1"/>
<path d="M127.5 1499.5v4.6M275.5 1499.5v4.6M424.5 1499.5v4.6M573.5 1499.5v4.6M721.5 1499.5v4.6M870.5 1499.5v4.6M127.5 1499.5h-4.6M127.5 1424.5h-4.6M127.5 1349.5h-4.6M127.5 1275.5h-4.6" stroke="#000" stroke-width="1.1" fill="none"/>
<text class="t" x="127.5" y="1525.4" text-anchor="middle" textLength="13.51" lengthAdjust="spacingAndGlyphs">0</text>
<text class="t" x="275.5" y="1525.4" text-anchor="middle" textLength="13.51" lengthAdjust="spacingAndGlyphs">1</text>
<text class="t" x="424.5" y="1525.4" text-anchor="middle" textLength="13.51" lengthAdjust="spacingAndGlyphs">2</text>
<text class="t" x="573.5" y="1525.4" text-anchor="middle" textLength="13.51" lengthAdjust="spacingAndGlyphs">3</text>
<text class="t" x="721.5" y="1525.4" text-anchor="middle" textLength="13.51" lengthAdjust="spacingAndGlyphs">4</text>
<text class="t" x="870.5" y="1525.4" text-anchor="middle" textLength="13.51" lengthAdjust="spacingAndGlyphs">5</text>
<text class="t" x="118.9" y="1508.9" text-anchor="end" textLength="13.51" lengthAdjust="spacingAndGlyphs">0</text>
<text class="t" x="118.9" y="1433.9" text-anchor="end" textLength="40.54" lengthAdjust="spacingAndGlyphs">500</text>
<text class="t" x="118.9" y="1358.9" text-anchor="end" textLength="54.06" lengthAdjust="spacingAndGlyphs">1000</text>
<text class="t" x="118.9" y="1284.9" text-anchor="end" textLength="54.06" lengthAdjust="spacingAndGlyphs">1500</text>
<text class="l" x="424" y="1561.1" xml:space="preserve">B2 <tspan class="i" dx="1">ε</tspan><tspan class="i" dx="1.4" dy="4.6" font-size="23.3">V</tspan><tspan dx="-0.5" dy="-4.6"> (</tspan><tspan class="i" dx="0.7">μm</tspan><tspan dx="0.6">)</tspan></text>
<text class="l" transform="translate(51.7 1402.7) rotate(-90)" textLength="92.4" lengthAdjust="spacingAndGlyphs">Entries</text>
</g>
<g id="p7">
<clipPath id="c7"><rect x="970.5" y="1208.5" width="743" height="291"/></clipPath>
<path d="M1076.5 1208.5V1499.5M1182.5 1208.5V1499.5M1288.5 1208.5V1499.5M1394.5 1208.5V1499.5M1500.5 1208.5V1499.5M1606.5 1208.5V1499.5M970.5 1438.5H1713.5M970.5 1378.5H1713.5M970.5 1318.5H1713.5M970.5 1258.5H1713.5" stroke="#b0b0b0" stroke-width="1.1" fill="none"/>
<g clip-path="url(#c7)" fill="none" stroke-width="3.0" stroke-linejoin="miter" stroke-linecap="butt">
<path d="M978 1499.5V1497.8H1024.68V1499.5H1071.36V1499.5H1118.04V1499.5H1164.72V1499.5H1211.4V1499.5H1258.08V1499.5H1304.76V1499.5H1351.44V1499.5H1398.12V1499.5H1444.8V1499.5H1491.48V1499.5H1538.16V1496.4H1584.84V1495.8H1631.52V1486H1678.2V1429.5H1724.88V1429.5H1771.56V1429.5H1818.24V1429.5H1864.92V1429.5H1911.6V1499.5" stroke="#0000ff"/>
<path d="M1354.6 1499.5V1498H1380.7V1498H1406.8V1498H1432.9V1498H1459V1498H1485.1V1498H1511.2V1498H1537.3V1493.3H1563.4V1492.7H1589.5V1484.5H1615.6V1445.8H1641.7V1394H1667.8V1349.6H1693.9V1347.3H1720V1347.3H1746.1V1400H1772.2V1450H1798.3V1480H1824.4V1495H1850.5V1498H1876.6V1499.5" stroke="#ffa500"/>
<path d="M1284.9 1499.5V1498.4H1311V1498.4H1337.1V1498.4H1363.2V1498.4H1389.3V1498.4H1415.4V1496.9H1441.5V1496.9H1467.6V1496.9H1493.7V1493.3H1519.8V1488.5H1545.9V1476.9H1572V1462.2H1598.1V1423.3H1624.2V1391.8H1650.3V1349.1H1676.4V1373.3H1702.5V1410.4H1728.6V1450H1754.7V1480H1780.8V1495H1806.9V1499.5" stroke="#008000"/>
<path d="M1295.1 1499.5V1497.9H1317.95V1497.9H1340.8V1497.9H1363.65V1497.9H1386.5V1497.9H1409.35V1496.9H1432.2V1495.8H1455.05V1494.2H1477.9V1489.1H1500.75V1480.9H1523.6V1440.5H1546.45V1399.1H1569.3V1367.3H1592.15V1373.6H1615V1392.2H1637.85V1432.7H1660.7V1458.5H1683.55V1478.2H1706.4V1492.4H1729.25V1497.5H1752.1V1499.5" stroke="#ff0000"/>
<path d="M1204.7 1499.5V1497.3H1212.57V1497.1H1220.44V1495.9H1228.31V1494.1H1236.18V1489.3H1244.05V1477.1H1251.92V1462.1H1259.79V1434.4H1267.66V1399.2H1275.53V1391.5H1283.4V1386.1H1291.27V1404.4H1299.14V1437.4H1307.01V1459.3H1314.88V1476.2H1322.75V1488.4H1330.62V1496.2H1338.49V1497.1H1346.36V1497.7H1354.23V1497.9H1362.1V1499.5" stroke="#bf00bf"/>
</g>
<rect x="975.7" y="1213.55" width="241.5" height="100.9" rx="2.2" ry="2.2" fill="#fff" fill-opacity="0.8" stroke="#ccc" stroke-opacity="0.8" stroke-width="1.1"/>
<rect x="980.3" y="1220.5" width="22.2" height="7.8" fill="none" stroke="#0000ff" stroke-width="3.0"/>
<text class="g" x="1012" y="1228.1" textLength="161.8" lengthAdjust="spacingAndGlyphs" xml:space="preserve">Injected:15.25e10 ppb/<tspan class="i">μm</tspan> ±  10.19e9</text>
<rect x="980.3" y="1239.6" width="22.2" height="7.8" fill="none" stroke="#ffa500" stroke-width="3.0"/>
<text class="g" x="1012" y="1247.2" textLength="170.9" lengthAdjust="spacingAndGlyphs" xml:space="preserve">Start Ramp:13.62e10 ppb/<tspan class="i">μm</tspan> ±  9.78e9</text>
<rect x="980.3" y="1259.6" width="22.2" height="7.8" fill="none" stroke="#008000" stroke-width="3.0"/>
<text class="g" x="1012" y="1267.2" textLength="172.8" lengthAdjust="spacingAndGlyphs" xml:space="preserve">End Ramp:13.01e10 ppb/<tspan class="i">μm</tspan> ±  10.79e9</text>
<rect x="980.3" y="1278.6" width="22.2" height="7.8" fill="none" stroke="#ff0000" stroke-width="3.0"/>
<text class="g" x="1012" y="1286.2" textLength="199" lengthAdjust="spacingAndGlyphs" xml:space="preserve">Start Stable Beams:11.8e10 ppb/<tspan class="i">μm</tspan> ±  9.86e9</text>
<rect x="980.3" y="1298.6" width="22.2" height="7.8" fill="none" stroke="#bf00bf" stroke-width="3.0"/>
<text class="g" x="1012" y="1306.2" textLength="190.9" lengthAdjust="spacingAndGlyphs" xml:space="preserve">End Stable Beams:5.9e10 ppb/<tspan class="i">μm</tspan> ± 3.73e9</text>
<rect x="970.5" y="1208.5" width="743" height="291" fill="none" stroke="#000" stroke-width="1.1"/>
<path d="M970.5 1499.5v4.6M1076.5 1499.5v4.6M1182.5 1499.5v4.6M1288.5 1499.5v4.6M1394.5 1499.5v4.6M1500.5 1499.5v4.6M1606.5 1499.5v4.6M1713.5 1499.5v4.6M970.5 1499.5h-4.6M970.5 1438.5h-4.6M970.5 1378.5h-4.6M970.5 1318.5h-4.6M970.5 1258.5h-4.6" stroke="#000" stroke-width="1.1" fill="none"/>
<text class="t" x="970.5" y="1525.4" text-anchor="middle" textLength="33.79" lengthAdjust="spacingAndGlyphs">0.0</text>
<text class="t" x="1076.5" y="1525.4" text-anchor="middle" textLength="33.79" lengthAdjust="spacingAndGlyphs">0.2</text>
<text class="t" x="1182.5" y="1525.4" text-anchor="middle" textLength="33.79" lengthAdjust="spacingAndGlyphs">0.4</text>
<text class="t" x="1288.5" y="1525.4" text-anchor="middle" textLength="33.79" lengthAdjust="spacingAndGlyphs">0.6</text>
<text class="t" x="1394.5" y="1525.4" text-anchor="middle" textLength="33.79" lengthAdjust="spacingAndGlyphs">0.8</text>
<text class="t" x="1500.5" y="1525.4" text-anchor="middle" textLength="33.79" lengthAdjust="spacingAndGlyphs">1.0</text>
<text class="t" x="1606.5" y="1525.4" text-anchor="middle" textLength="33.79" lengthAdjust="spacingAndGlyphs">1.2</text>
<text class="t" x="1713.5" y="1525.4" text-anchor="middle" textLength="33.79" lengthAdjust="spacingAndGlyphs">1.4</text>
<text class="t" x="961.9" y="1508.9" text-anchor="end" textLength="13.51" lengthAdjust="spacingAndGlyphs">0</text>
<text class="t" x="961.9" y="1447.9" text-anchor="end" textLength="40.54" lengthAdjust="spacingAndGlyphs">200</text>
<text class="t" x="961.9" y="1387.9" text-anchor="end" textLength="40.54" lengthAdjust="spacingAndGlyphs">400</text>
<text class="t" x="961.9" y="1327.9" text-anchor="end" textLength="40.54" lengthAdjust="spacingAndGlyphs">600</text>
<text class="t" x="961.9" y="1267.9" text-anchor="end" textLength="40.54" lengthAdjust="spacingAndGlyphs">800</text>
<text class="l" x="1341.1" y="1562" text-anchor="middle" xml:space="preserve">B2 brightness (ppb/<tspan class="i">μm</tspan>)</text>
<text class="t" x="1659.9" y="1554.3" textLength="50.4" lengthAdjust="spacingAndGlyphs">1e11</text>
</g>
</svg>
</div></body></html>
